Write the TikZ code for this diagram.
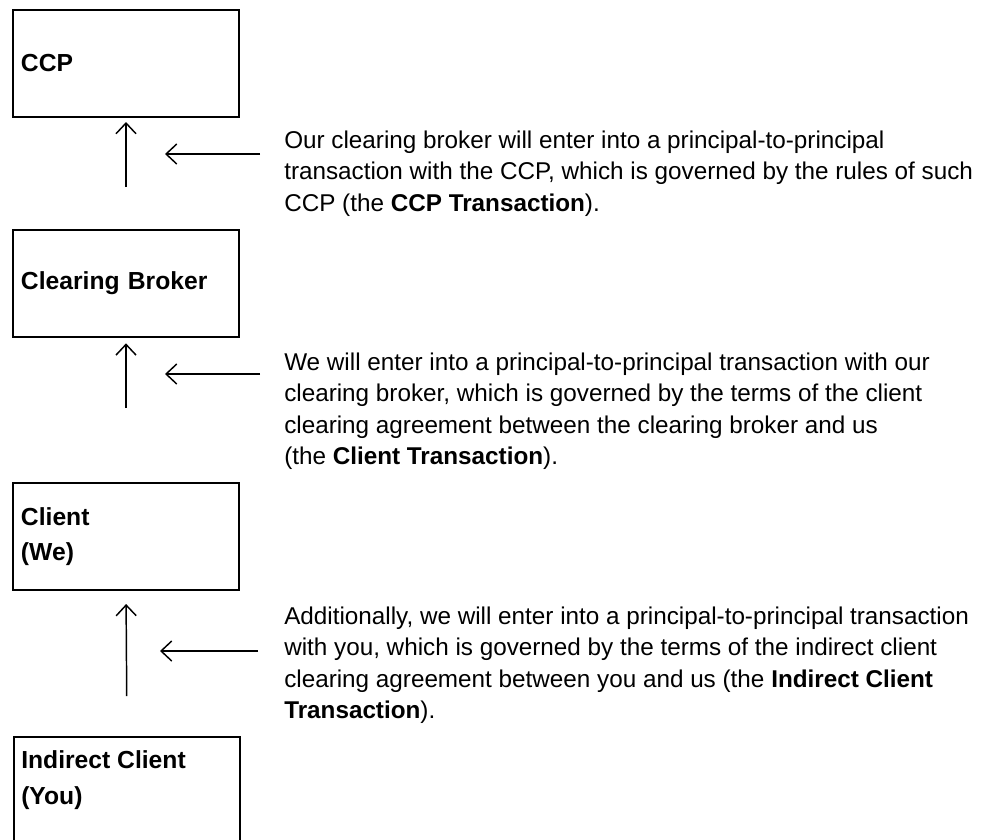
\documentclass[tikz,border=0pt]{standalone}
\usepackage{fontspec}
\setmainfont{Liberation Sans}
\usetikzlibrary{arrows.meta}
\begin{document}
\begin{tikzpicture}[x=0.75pt,y=-0.75pt,
  party/.style={draw,line width=1.5pt,minimum width=169.5pt,minimum height=80.25pt,
    inner xsep=6pt,text width=157.5pt,align=left,font=\fontsize{18.5}{26.5}\selectfont\bfseries},
  plainbox/.style={draw,line width=1.5pt,minimum width=169.5pt,minimum height=80.25pt,inner sep=0pt},
  lbl/.style={align=left,inner sep=0pt,font=\fontsize{18.5}{26.5}\selectfont\bfseries},
  desc/.style={align=left,inner sep=0pt,font=\fontsize{18.2}{23.6}\selectfont},
  arr/.style={line width=1.1pt,-{Straight Barb[length=8pt,width=15pt,line width=1.1pt]}}]
\clip (0,0) rectangle (992,839);
\useasboundingbox (0,0) rectangle (992,839);

\node[party] (ccp) at (126,63.5) {CCP};
\node[party] (cb) at (126,283.5) {Clearing Broker};
\node[party] (cl) at (126,536.5) {Client\\(We)};
\node[plainbox,anchor=north west] (ind) at (13,736) {};
\node[lbl,anchor=base west] (indl) at (21,804) {Indirect Client\\(You)};

\node[desc,anchor=base west] (t1) at (284,211) {Our clearing broker will enter into a principal-to-principal\\transaction with the CCP, which is governed by the rules of such\\CCP (the \textbf{CCP Transaction}).};
\node[desc,anchor=base west] (t2) at (284,464.5) {We will enter into a principal-to-principal transaction with our\\clearing broker, which is governed by the terms of the client\\clearing agreement between the clearing broker and us\\(the \textbf{Client Transaction}).};
\node[desc,anchor=base west] (t3) at (284,718.5) {Additionally, we will enter into a principal-to-principal transaction\\with you, which is governed by the terms of the indirect client\\clearing agreement between you and us (the \textbf{Indirect Client}\\\textbf{Transaction}).};

\draw[arr,shorten <=31.5pt,shorten >=3pt] (cb.north) -- (ccp.south);
\draw[arr,shorten <=55.5pt,shorten >=4pt] (cl.north) -- (cb.south);
\draw[arr,shorten <=30pt,shorten >=9.75pt] (ind.north) -- (cl.south);

\coordinate (h1s) at (260,154); \coordinate (h1e) at (165,154);
\coordinate (h2s) at (260,374); \coordinate (h2e) at (165,374);
\coordinate (h3s) at (258,651); \coordinate (h3e) at (160,651);
\draw[arr] (h1s) -- (h1e);
\draw[arr] (h2s) -- (h2e);
\draw[arr] (h3s) -- (h3e);
\end{tikzpicture}
\end{document}
